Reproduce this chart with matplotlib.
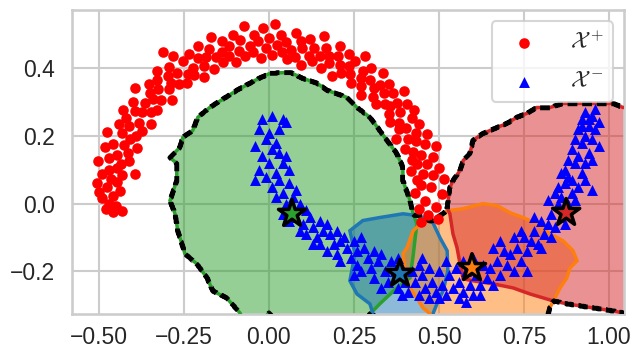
# Two-moons data with four local regions (filled polygons), their union outline
# drawn dashed, and the region centres marked with stars.
import numpy as np
import matplotlib
matplotlib.use("Agg")
import matplotlib.pyplot as plt
import matplotlib.colors as mcolors
from matplotlib.patches import Polygon
from matplotlib.path import Path
import seaborn as sns

sns.set_theme(style="whitegrid", context="talk")
plt.rcParams["font.family"] = ["Liberation Sans", "DejaVu Sans"]
plt.rcParams["mathtext.fontset"] = "cm"

# upper moon (X+)
pos_x = [0.447, 0.469, 0.440, 0.498, 0.490, 0.460, 0.509, 0.429, 0.477, 0.447,
         0.515, 0.435, 0.483, 0.452, 0.499, 0.419, 0.466, 0.435, 0.481, 0.421,
         0.447, 0.492, 0.423, 0.458, 0.399, 0.433, 0.466, 0.408, 0.431, 0.374,
         0.441, 0.402, 0.381, 0.420, 0.382, 0.428, 0.356, 0.385, 0.405, 0.352,
         0.378, 0.357, 0.398, 0.340, 0.364, 0.314, 0.338, 0.354, 0.306, 0.327,
         0.308, 0.335, 0.270, 0.296, 0.271, 0.301, 0.270, 0.276, 0.240, 0.283,
         0.239, 0.252, 0.235, 0.213, 0.235, 0.209, 0.184, 0.203, 0.208, 0.176,
         0.176, 0.154, 0.168, 0.150, 0.161, 0.128, 0.132, 0.117, 0.121, 0.095,
         0.098, 0.094, 0.077, 0.080, 0.064, 0.052, 0.050, 0.039, 0.035, 0.025,
         0.018, 0.008, 0.000, -0.008, -0.018, -0.023, -0.033, -0.044, -0.047, -0.057,
         -0.074, -0.069, -0.085, -0.088, -0.106, -0.097, -0.116, -0.117, -0.138, -0.137,
         -0.136, -0.170, -0.157, -0.175, -0.161, -0.184, -0.208, -0.190, -0.210, -0.191,
         -0.235, -0.223, -0.220, -0.252, -0.239, -0.283, -0.240, -0.270, -0.294, -0.265,
         -0.296, -0.289, -0.328, -0.295, -0.328, -0.286, -0.327, -0.354, -0.316, -0.351,
         -0.342, -0.393, -0.329, -0.365, -0.347, -0.400, -0.372, -0.393, -0.348, -0.428,
         -0.382, -0.420, -0.372, -0.411, -0.442, -0.392, -0.432, -0.408, -0.475, -0.387,
         -0.426, -0.458, -0.413, -0.482, -0.447, -0.411, -0.471, -0.435, -0.504, -0.448,
         -0.469, -0.432, -0.492, -0.464, -0.446, -0.506, -0.477, -0.438, -0.499, -0.459,
         -0.490, -0.470, -0.450, -0.480, -0.459, -0.432, -0.310, -0.395]
pos_y = [-0.055, -0.033, -0.015, -0.044, -0.009, 0.008, 0.027, 0.030, 0.050, 0.055,
         0.072, 0.069, 0.085, 0.088, 0.106, 0.097, 0.116, 0.117, 0.138, 0.129,
         0.145, 0.169, 0.154, 0.175, 0.161, 0.184, 0.207, 0.190, 0.210, 0.191,
         0.235, 0.223, 0.220, 0.252, 0.239, 0.278, 0.240, 0.270, 0.294, 0.265,
         0.296, 0.289, 0.334, 0.295, 0.328, 0.293, 0.327, 0.354, 0.316, 0.351,
         0.342, 0.385, 0.322, 0.365, 0.347, 0.400, 0.372, 0.393, 0.356, 0.436,
         0.382, 0.420, 0.407, 0.385, 0.442, 0.410, 0.378, 0.435, 0.466, 0.414,
         0.436, 0.402, 0.461, 0.435, 0.495, 0.421, 0.461, 0.435, 0.485, 0.409,
         0.460, 0.481, 0.433, 0.504, 0.455, 0.427, 0.478, 0.448, 0.499, 0.470,
         0.530, 0.440, 0.490, 0.460, 0.520, 0.429, 0.479, 0.498, 0.448, 0.466,
         0.525, 0.435, 0.483, 0.452, 0.499, 0.419, 0.466, 0.435, 0.481, 0.449,
         0.418, 0.492, 0.432, 0.458, 0.399, 0.433, 0.466, 0.408, 0.431, 0.374,
         0.441, 0.402, 0.381, 0.420, 0.382, 0.436, 0.356, 0.385, 0.405, 0.352,
         0.378, 0.357, 0.391, 0.340, 0.364, 0.307, 0.338, 0.354, 0.306, 0.327,
         0.308, 0.341, 0.276, 0.296, 0.271, 0.301, 0.270, 0.275, 0.235, 0.278,
         0.239, 0.252, 0.215, 0.228, 0.235, 0.200, 0.210, 0.190, 0.212, 0.164,
         0.172, 0.175, 0.150, 0.166, 0.145, 0.126, 0.135, 0.117, 0.126, 0.104,
         0.100, 0.084, 0.087, 0.073, 0.063, 0.062, 0.050, 0.038, 0.035, 0.024,
         0.017, 0.000, -0.008, -0.017, -0.024, -0.021, 0.447, 0.089]

# lower moon (X-)
neg_x = [-0.02, 0.01, 0.04, -0.03, 0.00, 0.03, -0.01, 0.02, -0.04, 0.05,
         0.01, -0.02, 0.03, 0.00, 0.04, -0.03, 0.02, 0.06, -0.01, 0.05, -0.04,
         0.03, 0.01, 0.06, 0.04, 0.08, 0.02, 0.05, 0.07,
         0.06, 0.09, 0.04, 0.08, 0.11, 0.06, 0.10,
         0.12, 0.09, 0.13, 0.15, 0.11, 0.14, 0.16,
         0.17, 0.18, 0.15, 0.20, 0.19, 0.17, 0.21, 0.13,
         0.22, 0.23, 0.20, 0.25, 0.24, 0.21, 0.26, 0.27,
         0.28, 0.29, 0.26, 0.31, 0.30, 0.27, 0.32, 0.25,
         0.33, 0.34, 0.31, 0.36, 0.35, 0.33, 0.37, 0.38,
         0.39, 0.40, 0.38, 0.42, 0.41, 0.39, 0.43, 0.44,
         0.45, 0.46, 0.44, 0.47, 0.48, 0.47, 0.49, 0.45,
         0.50, 0.51, 0.52, 0.53, 0.54, 0.50, 0.55, 0.52,
         0.56, 0.57, 0.58, 0.59, 0.56, 0.60, 0.58, 0.57,
         0.61, 0.62, 0.63, 0.64, 0.62, 0.65, 0.60, 0.66,
         0.67, 0.68, 0.69, 0.70, 0.66, 0.71, 0.72, 0.68,
         0.73, 0.74, 0.75, 0.76, 0.72, 0.77, 0.76, 0.74,
         0.78, 0.79, 0.80, 0.81, 0.78, 0.82, 0.80, 0.83,
         0.83, 0.84, 0.85, 0.86, 0.82, 0.87, 0.84,
         0.86, 0.88, 0.87, 0.89, 0.85, 0.90, 0.88,
         0.89, 0.91, 0.87, 0.90, 0.92, 0.88, 0.93,
         0.91, 0.93, 0.89, 0.92, 0.94, 0.90, 0.95,
         0.93, 0.91, 0.95, 0.94, 0.96, 0.92, 0.97,
         0.93, 0.95, 0.96, 0.94, 0.97, 0.92, 0.95, 0.86]
neg_y = [0.25, 0.26, 0.25, 0.22, 0.21, 0.22, 0.19, 0.18, 0.17, 0.24,
         0.16, 0.14, 0.15, 0.12, 0.12, 0.10, 0.09, 0.10, 0.08, 0.14, 0.07,
         0.07, 0.05, 0.06, 0.03, 0.04, 0.02, 0.00, 0.02,
         -0.01, 0.00, -0.03, -0.04, -0.02, -0.05, -0.06,
         -0.04, -0.08, -0.07, -0.05, -0.09, -0.10, -0.08,
         -0.06, -0.09, -0.12, -0.08, -0.12, -0.14, -0.11, -0.12,
         -0.10, -0.13, -0.15, -0.11, -0.16, -0.17, -0.14, -0.10,
         -0.13, -0.16, -0.18, -0.14, -0.19, -0.20, -0.17, -0.21,
         -0.15, -0.20, -0.22, -0.17, -0.23, -0.25, -0.20, -0.16,
         -0.19, -0.23, -0.25, -0.20, -0.26, -0.27, -0.23, -0.18,
         -0.21, -0.25, -0.27, -0.19, -0.23, -0.28, -0.26, -0.16,
         -0.20, -0.24, -0.27, -0.21, -0.25, -0.28, -0.19, -0.17,
         -0.23, -0.26, -0.20, -0.24, -0.28, -0.27, -0.29, -0.17,
         -0.21, -0.24, -0.18, -0.22, -0.27, -0.19, -0.16, -0.24,
         -0.17, -0.21, -0.14, -0.18, -0.13, -0.15, -0.20, -0.11,
         -0.13, -0.17, -0.10, -0.14, -0.10, -0.11, -0.20, -0.08,
         -0.08, -0.12, -0.05, -0.09, -0.04, -0.06, -0.13, -0.10,
         -0.03, -0.07, 0.00, -0.04, 0.01, -0.06, 0.03,
         0.02, 0.00, 0.06, 0.03, 0.05, 0.01, 0.08,
         0.07, 0.05, 0.10, 0.12, 0.09, 0.13, 0.07,
         0.14, 0.12, 0.16, 0.18, 0.15, 0.19, 0.13,
         0.20, 0.22, 0.19, 0.23, 0.22, 0.25, 0.17,
         0.27, 0.26, 0.28, 0.25, 0.24, 0.23, 0.04, 0.09]

# region boundaries (data coordinates)
green_region = [(-0.076, -0.347), (-0.085, -0.323), (-0.124, -0.279), (-0.165, -0.258),
                (-0.182, -0.219), (-0.212, -0.178), (-0.247, -0.148), (-0.268, -0.080),
                (-0.276, -0.030), (-0.291, 0.009), (-0.271, 0.068), (-0.271, 0.119),
                (-0.291, 0.136), (-0.262, 0.166), (-0.253, 0.196), (-0.224, 0.216),
                (-0.209, 0.255), (-0.174, 0.284), (-0.094, 0.335), (-0.041, 0.364),
                (0.003, 0.385), (0.062, 0.388), (0.100, 0.370), (0.141, 0.356),
                (0.171, 0.335), (0.229, 0.314), (0.259, 0.284), (0.297, 0.255),
                (0.326, 0.216), (0.347, 0.187), (0.376, 0.148), (0.394, 0.107),
                (0.394, 0.068), (0.415, 0.009), (0.424, -0.030), (0.435, -0.059),
                (0.429, -0.110), (0.424, -0.154), (0.415, -0.219), (0.376, -0.249),
                (0.326, -0.296), (0.297, -0.326), (0.282, -0.347), (0.020, -0.347),
                (0.000, -0.322), (-0.020, -0.347)]
blue_region = [(0.238, -0.080), (0.276, -0.050), (0.326, -0.041), (0.394, -0.030),
               (0.444, -0.036), (0.482, -0.056), (0.503, -0.101), (0.524, -0.139),
               (0.526, -0.199), (0.512, -0.258), (0.494, -0.296), (0.482, -0.326),
               (0.474, -0.347), (0.312, -0.347), (0.306, -0.326), (0.297, -0.296),
               (0.259, -0.267), (0.238, -0.228), (0.253, -0.148)]
orange_region = [(0.424, -0.080), (0.450, -0.056), (0.482, -0.050), (0.524, -0.021),
                 (0.571, -0.015), (0.629, 0.000), (0.671, -0.006), (0.709, -0.027),
                 (0.747, -0.041), (0.788, -0.059), (0.826, -0.089), (0.865, -0.110),
                 (0.894, -0.139), (0.906, -0.169), (0.885, -0.190), (0.876, -0.219),
                 (0.856, -0.249), (0.841, -0.279), (0.826, -0.308), (0.821, -0.326),
                 (0.815, -0.347), (0.490, -0.347), (0.470, -0.322), (0.453, -0.308),
                 (0.435, -0.279), (0.406, -0.237), (0.394, -0.148), (0.406, -0.130)]
red_region = [(0.524, -0.012), (0.532, 0.047), (0.541, 0.068), (0.562, 0.098),
              (0.571, 0.127), (0.591, 0.148), (0.600, 0.187), (0.629, 0.207),
              (0.671, 0.225), (0.700, 0.237), (0.729, 0.255), (0.759, 0.267),
              (0.788, 0.284), (0.826, 0.284), (0.865, 0.296), (0.915, 0.296),
              (0.974, 0.296), (1.012, 0.296), (1.041, 0.284), (1.091, 0.284),
              (1.091, -0.329), (1.041, -0.323), (1.012, -0.317), (0.953, -0.308),
              (0.915, -0.302), (0.876, -0.296), (0.835, -0.287), (0.768, -0.267),
              (0.718, -0.249), (0.659, -0.237), (0.600, -0.228), (0.571, -0.222),
              (0.562, -0.178), (0.553, -0.130), (0.541, -0.089), (0.532, -0.030)]

regions = [green_region, blue_region, orange_region, red_region]
region_colors = ["tab:green", "tab:blue", "tab:orange", "tab:red"]

centers_x = [0.068, 0.385, 0.597, 0.874]
centers_y = [-0.030, -0.207, -0.190, -0.027]

fig = plt.figure(figsize=(6.33, 3.5), dpi=100)
ax = fig.add_axes([72 / 633, 36 / 350, 552 / 633, 304 / 350])

for poly, c in zip(regions, region_colors):
    ax.add_patch(Polygon(poly, closed=True, facecolor=mcolors.to_rgba(c, 0.5),
                         edgecolor="none", zorder=2))
for poly, c in zip(regions, region_colors):
    ax.add_patch(Polygon(poly, closed=True, fill=False, edgecolor=c, lw=2.5, zorder=3))

# outline of the union of all regions, dashed black
gx = np.arange(-0.7, 1.2, 0.002)
gy = np.arange(-0.45, 0.7, 0.002)
GX, GY = np.meshgrid(gx, gy)
pts = np.column_stack([GX.ravel(), GY.ravel()])
inside = np.zeros(len(pts), dtype=bool)
for poly in regions:
    inside |= Path(poly).contains_points(pts)
cs = ax.contour(GX, GY, inside.reshape(GX.shape).astype(float), levels=[0.5])
segs = cs.allsegs[0]
cs.remove()
for seg in segs:
    ax.plot(seg[:, 0], seg[:, 1], color="black", lw=3.5, dashes=(2, 1), zorder=4)

ax.scatter(pos_x, pos_y, s=58, c="red", marker="o", linewidths=0, zorder=5,
           label=r"$\mathcal{X}^+$")
ax.scatter(neg_x, neg_y, s=62, c="blue", marker="^", linewidths=0, zorder=6,
           label=r"$\mathcal{X}^-$")
ax.scatter(centers_x, centers_y, s=420, c=region_colors, marker="*",
           edgecolors="black", linewidths=2.5, zorder=7)

ax.set_xlim(-0.579, 1.044)
ax.set_ylim(-0.326, 0.572)
ax.set_xticks([-0.5, -0.25, 0.0, 0.25, 0.5, 0.75, 1.0])
ax.set_yticks([-0.2, 0.0, 0.2, 0.4])
ax.tick_params(axis="both", labelsize=16.5)
ax.tick_params(axis="x", pad=0)

ax.legend(loc="upper right", fontsize=16.5, handletextpad=1.0, labelspacing=0.7)

fig.savefig("out.png", dpi=100)
